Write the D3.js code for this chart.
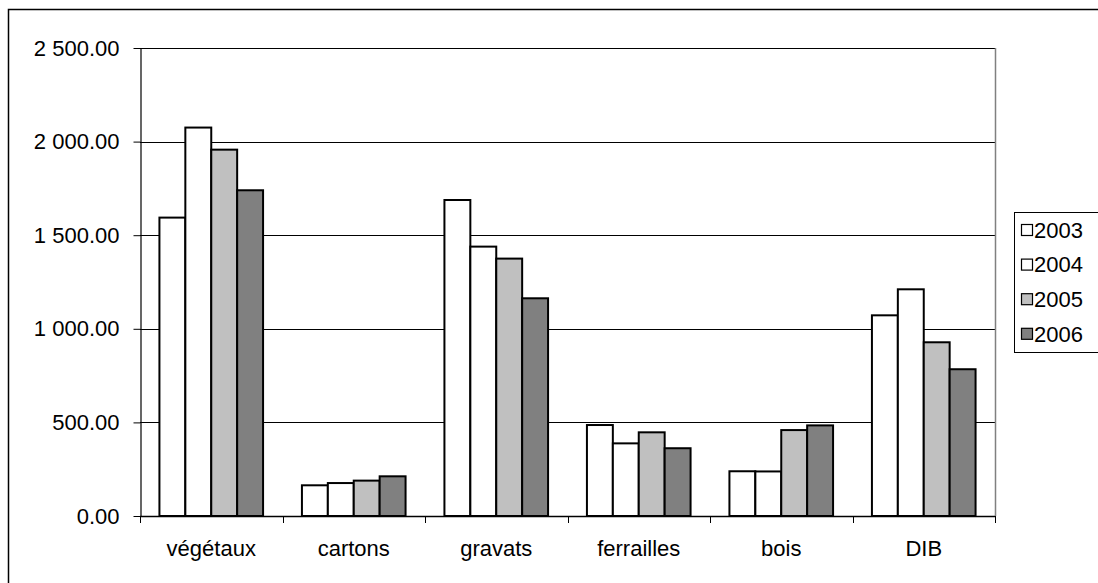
<!DOCTYPE html>
<html>
<head>
<meta charset="utf-8">
<script src="https://cdn.jsdelivr.net/npm/d3@7"></script>
<style>
  html, body { margin: 0; padding: 0; background: #fff; }
  svg { display: block; font-family: "Liberation Sans", Arial, sans-serif; }
</style>
</head>
<body>
<div id="chart"></div>
<script>
// ── data ──────────────────────────────────────────
const categories = ['végétaux', 'cartons', 'gravats', 'ferrailles', 'bois', 'DIB'];
const years      = ['2003', '2004', '2005', '2006'];
const v2003 = [1594, 164, 1688, 486, 239, 1072];
const v2004 = [2075, 176, 1439, 388, 238, 1211];
const v2005 = [1957, 189, 1375, 447, 459, 928];
const v2006 = [1740, 212, 1163, 362, 484, 784];
const yTicks = [0, 500, 1000, 1500, 2000, 2500];

const series = [v2003, v2004, v2005, v2006];
const fills  = ['#FFFFFF', '#FFFFFF', '#C0C0C0', '#808080'];

// ── layout ────────────────────────────────────────
const W = 1098, H = 583;
const plot = { left: 140, right: 995, top: 48, bottom: 516 };

const fmt = d3.formatLocale({ decimal: '.', thousands: '\u00a0', grouping: [3] }).format(',.2f');

const svg = d3.select('#chart').append('svg')
  .attr('width', W).attr('height', H);

// outer frame (right and bottom edges run off the picture)
svg.append('rect')
  .attr('x', 8.5).attr('y', 9.5)
  .attr('width', W + 10).attr('height', H + 10)
  .attr('fill', 'none').attr('stroke', '#000').attr('stroke-width', 1.5);

const x0 = d3.scaleBand().domain(categories)
  .range([plot.left, plot.right]).paddingInner(0).paddingOuter(0);

// Excel gap width 150% → bars occupy 4/5.5 of the category
const bw = x0.bandwidth() / 5.5;
const x1 = d3.scaleBand().domain(years)
  .range([bw * 0.75, bw * 0.75 + bw * 4]);

const y = d3.scaleLinear().domain([0, 2500]).range([plot.bottom, plot.top]);

// gridlines
svg.append('g').selectAll('line')
  .data(yTicks.filter(d => d > 0))
  .join('line')
    .attr('x1', plot.left).attr('x2', plot.right)
    .attr('y1', d => Math.round(y(d)) + 0.5).attr('y2', d => Math.round(y(d)) + 0.5)
    .attr('stroke', '#000').attr('stroke-width', 1);

// plot area right border
svg.append('line')
  .attr('x1', plot.right + 0.5).attr('x2', plot.right + 0.5)
  .attr('y1', plot.top).attr('y2', plot.bottom)
  .attr('stroke', '#808080').attr('stroke-width', 1.5);

// bars
const groups = svg.append('g').selectAll('g')
  .data(categories)
  .join('g')
    .attr('transform', d => `translate(${x0(d)},0)`);

groups.selectAll('rect')
  .data((c, i) => years.map((yr, s) => ({ yr, s, v: series[s][i] })))
  .join('rect')
    .attr('x', d => x1(d.yr))
    .attr('y', d => y(d.v))
    .attr('width', x1.bandwidth())
    .attr('height', d => y(0) - y(d.v))
    .attr('fill', d => fills[d.s])
    .attr('stroke', '#000')
    .attr('stroke-width', 2);

// y axis
const yAxis = svg.append('g')
  .attr('transform', `translate(${plot.left + 0.5},0)`)
  .call(d3.axisLeft(y).tickValues(yTicks).tickFormat(fmt).tickSize(7).tickSizeOuter(0).tickPadding(14));
yAxis.select('.domain').attr('stroke', '#000').attr('stroke-width', 1.2);
yAxis.selectAll('.tick line').attr('stroke', '#000');
yAxis.selectAll('.tick text')
  .attr('font-size', 22).attr('fill', '#000')
  .attr('font-family', '"Liberation Sans", Arial, sans-serif');

// x axis
const xTickPos = categories.map(c => x0(c)).concat([plot.right]);
svg.append('line')
  .attr('x1', plot.left).attr('x2', plot.right)
  .attr('y1', plot.bottom + 0.5).attr('y2', plot.bottom + 0.5)
  .attr('stroke', '#000').attr('stroke-width', 1.5);
svg.append('g').selectAll('line')
  .data(xTickPos)
  .join('line')
    .attr('x1', d => Math.round(d) + 0.5).attr('x2', d => Math.round(d) + 0.5)
    .attr('y1', plot.bottom).attr('y2', plot.bottom + 7)
    .attr('stroke', '#000');
svg.append('g').selectAll('text')
  .data(categories)
  .join('text')
    .attr('x', d => x0(d) + x0.bandwidth() / 2)
    .attr('y', 556)
    .attr('text-anchor', 'middle')
    .attr('font-size', 22)
    .attr('fill', '#000')
    .text(d => d);

// legend
const lg = svg.append('g');
lg.append('rect')
  .attr('x', 1014.5).attr('y', 212.5)
  .attr('width', 100).attr('height', 140)
  .attr('fill', '#fff').attr('stroke', '#000').attr('stroke-width', 1);
const rows = lg.selectAll('g.row')
  .data(years)
  .join('g')
    .attr('class', 'row')
    .attr('transform', (d, i) => `translate(0,${230 + i * 34.6})`);
rows.append('rect')
  .attr('x', 1021.5).attr('y', -5.5)
  .attr('width', 11).attr('height', 11)
  .attr('fill', (d, i) => fills[i])
  .attr('stroke', '#000').attr('stroke-width', 1.2);
rows.append('text')
  .attr('x', 1034).attr('y', 0).attr('dy', '0.35em')
  .attr('font-size', 22).attr('fill', '#000')
  .text(d => d);
</script>
</body>
</html>
